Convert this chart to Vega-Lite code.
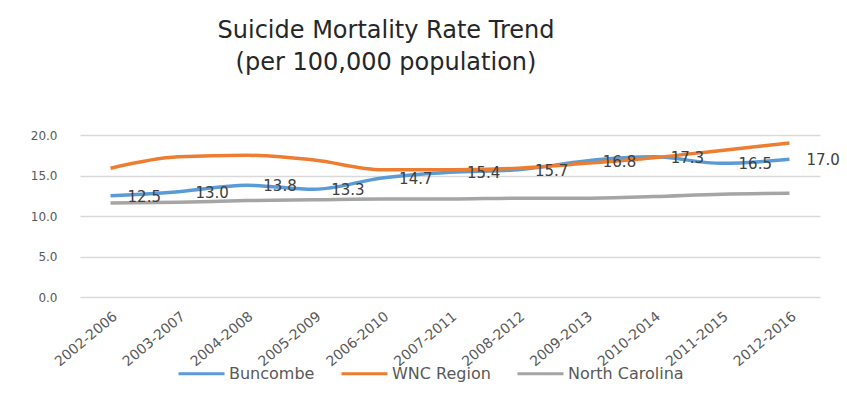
{
  "$schema": "https://vega.github.io/schema/vega-lite/v6.json",
  "width": 740,
  "height": 162,
  "autosize": {"type": "none"},
  "padding": {"left": 80, "top": 135, "right": 27, "bottom": 101},
  "background": "white",
  "title": {
    "text": ["Suicide Mortality Rate Trend", "(per 100,000 population)"],
    "font": "DejaVu Sans",
    "fontSize": 24,
    "fontWeight": "normal",
    "color": "#262626",
    "anchor": "middle",
    "dx": -64,
    "offset": 54,
    "lineHeight": 32
  },
  "data": {
    "values": [
      {"period": "2002-2006", "series": "Buncombe", "value": 12.5},
      {"period": "2003-2007", "series": "Buncombe", "value": 13.0},
      {"period": "2004-2008", "series": "Buncombe", "value": 13.8},
      {"period": "2005-2009", "series": "Buncombe", "value": 13.3},
      {"period": "2006-2010", "series": "Buncombe", "value": 14.7},
      {"period": "2007-2011", "series": "Buncombe", "value": 15.4},
      {"period": "2008-2012", "series": "Buncombe", "value": 15.7},
      {"period": "2009-2013", "series": "Buncombe", "value": 16.8},
      {"period": "2010-2014", "series": "Buncombe", "value": 17.3},
      {"period": "2011-2015", "series": "Buncombe", "value": 16.5},
      {"period": "2012-2016", "series": "Buncombe", "value": 17.0},
      {"period": "2002-2006", "series": "WNC Region", "value": 15.9},
      {"period": "2003-2007", "series": "WNC Region", "value": 17.3},
      {"period": "2004-2008", "series": "WNC Region", "value": 17.5},
      {"period": "2005-2009", "series": "WNC Region", "value": 16.9},
      {"period": "2006-2010", "series": "WNC Region", "value": 15.7},
      {"period": "2007-2011", "series": "WNC Region", "value": 15.7},
      {"period": "2008-2012", "series": "WNC Region", "value": 15.9},
      {"period": "2009-2013", "series": "WNC Region", "value": 16.5},
      {"period": "2010-2014", "series": "WNC Region", "value": 17.2},
      {"period": "2011-2015", "series": "WNC Region", "value": 18.1},
      {"period": "2012-2016", "series": "WNC Region", "value": 19.0},
      {"period": "2002-2006", "series": "North Carolina", "value": 11.6},
      {"period": "2003-2007", "series": "North Carolina", "value": 11.7},
      {"period": "2004-2008", "series": "North Carolina", "value": 11.9},
      {"period": "2005-2009", "series": "North Carolina", "value": 12.0},
      {"period": "2006-2010", "series": "North Carolina", "value": 12.1},
      {"period": "2007-2011", "series": "North Carolina", "value": 12.1},
      {"period": "2008-2012", "series": "North Carolina", "value": 12.2},
      {"period": "2009-2013", "series": "North Carolina", "value": 12.2},
      {"period": "2010-2014", "series": "North Carolina", "value": 12.4},
      {"period": "2011-2015", "series": "North Carolina", "value": 12.7},
      {"period": "2012-2016", "series": "North Carolina", "value": 12.8}
    ]
  },
  "layer": [
    {
      "mark": {"type": "line", "strokeWidth": 3.5, "interpolate": "monotone"},
      "encoding": {
        "x": {
          "field": "period",
          "type": "ordinal",
          "sort": null,
          "scale": {"type": "point", "padding": 0.45},
          "axis": {
            "title": null,
            "labelAngle": -40,
            "ticks": false,
            "domain": false,
            "grid": false,
            "labelPadding": 12,
            "labelFont": "DejaVu Sans",
            "labelFontSize": 14,
            "labelColor": "#595959"
          }
        },
        "y": {
          "field": "value",
          "type": "quantitative",
          "scale": {"domain": [0, 20]},
          "axis": {
            "title": null,
            "values": [0, 5, 10, 15, 20],
            "format": ".1f",
            "ticks": false,
            "domain": false,
            "labelPadding": 23,
            "labelFont": "DejaVu Sans",
            "labelFontSize": 12,
            "labelColor": "#595959",
            "gridColor": "#D9D9D9",
            "gridWidth": 1.5
          }
        },
        "color": {
          "field": "series",
          "type": "nominal",
          "sort": ["Buncombe", "WNC Region", "North Carolina"],
          "scale": {
            "domain": ["Buncombe", "WNC Region", "North Carolina"],
            "range": ["#5B9BD5", "#ED7D31", "#A5A5A5"]
          },
          "legend": {
            "orient": "none",
            "legendX": 97,
            "legendY": 214,
            "direction": "horizontal",
            "title": null,
            "symbolType": "stroke",
            "symbolSize": 2116,
            "symbolStrokeWidth": 3,
            "labelFont": "DejaVu Sans",
            "labelFontSize": 16,
            "labelColor": "#595959",
            "labelOffset": 3,
            "columnPadding": 20
          }
        }
      }
    },
    {
      "transform": [{"filter": "datum.series === 'Buncombe'"}],
      "mark": {
        "type": "text",
        "align": "left",
        "baseline": "middle",
        "dx": 17,
        "dy": 1,
        "font": "DejaVu Sans",
        "fontSize": 15,
        "color": "#404040"
      },
      "encoding": {
        "x": {"field": "period", "type": "ordinal", "sort": null},
        "y": {"field": "value", "type": "quantitative"},
        "text": {"field": "value", "type": "quantitative", "format": ".1f"}
      }
    }
  ],
  "config": {"view": {"stroke": null}}
}
